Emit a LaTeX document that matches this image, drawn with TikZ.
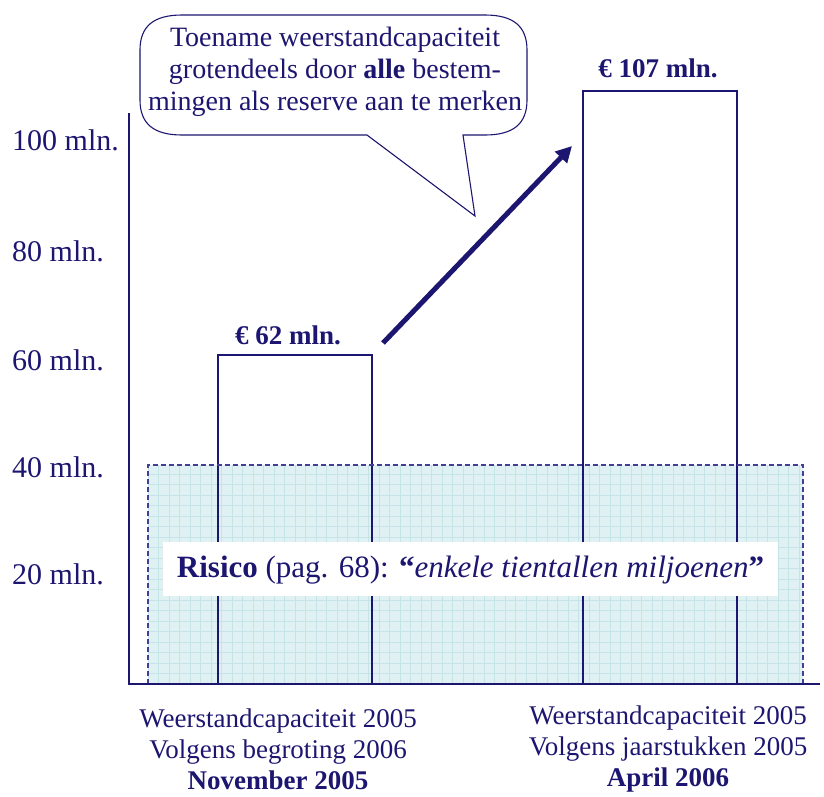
\documentclass[tikz,border=0pt]{standalone}
\usepackage{fontspec}
\setmainfont{Liberation Serif}
\usetikzlibrary{arrows.meta}
\definecolor{navy}{RGB}{28,22,112}
\definecolor{dashnavy}{RGB}{70,62,150}
\definecolor{riskfill}{RGB}{224,241,243}
\definecolor{gridc}{RGB}{196,228,231}
\tikzset{
  axisline/.style={draw=navy,line width=1.6pt},
  barline/.style={draw=navy,line width=1.1pt},
  ylab/.style={anchor=west,inner sep=0pt,text=navy,font=\fontsize{30}{34}\selectfont},
  vallab/.style={inner sep=0pt,text=navy,font=\fontsize{27}{32}\selectfont\bfseries},
  xlab/.style={inner sep=0pt,text=navy,align=center,font=\fontsize{27}{31}\selectfont},
  bubtext/.style={inner sep=0pt,text=navy,align=center,font=\fontsize{28}{32}\selectfont},
}
\begin{document}
\begin{tikzpicture}[x=1pt,y=-1pt]
\useasboundingbox (0,0) rectangle (824,796);
% risk band
\fill[riskfill] (148,465) rectangle (803,684);
\begin{scope}
\clip (148,465) rectangle (803,684);
\foreach \x in {148,158.5,...,804} \draw[gridc,line width=0.5pt] (\x,465) -- (\x,684);
\foreach \y in {684,673.5,...,464} \draw[gridc,line width=0.5pt] (148,\y) -- (803,\y);
\end{scope}
% bars
\draw[barline] (218,684) -- (218,355) -- (372,355) -- (372,684);
\draw[barline] (583,684) -- (583,91) -- (737,91) -- (737,684);
% dashed border
\draw[dashnavy,line width=1.3pt,dash pattern=on 5pt off 3pt] (148,684) -- (148,465) -- (803,465) -- (803,684);
% white label box
\fill[white] (163,542) rectangle (778,596);
\node[inner sep=0pt,text=navy,font=\fontsize{31}{34}\selectfont] (risk) at (470.5,570)
  {\textbf{Risico} (pag. 68): \textbf{``}\textit{enkele tientallen miljoenen}\textbf{''}};
% axes
\draw[axisline] (129,113) -- (129,685);
\draw[draw=navy,line width=2pt] (128,684) -- (820,684);
% y labels
\node[ylab] (y100) at (12,140) {100 mln.};
\node[ylab] (y80) at (12,251) {80 mln.};
\node[ylab] (y60) at (12,360) {60 mln.};
\node[ylab] (y40) at (12,467) {40 mln.};
\node[ylab] (y20) at (12,574) {20 mln.};
% value labels
\node[vallab] (v62) at (288,335) {€ 62 mln.};
\node[vallab] (v107) at (658,68) {€ 107 mln.};
% arrow
\coordinate (arrS) at (383,343);
\coordinate (arrE) at (572,146);
\draw[navy,line width=5pt,-{Triangle[length=16pt,width=16pt]}] (arrS) -- (arrE);
% callout
\fill[white,draw=navy,line width=1.1pt] (367,135) -- (182,135) .. controls (154,135) and (140,124) .. (140,100)
  -- (140,50) .. controls (140,26) and (154,15) .. (182,15) -- (485,15)
  .. controls (513,15) and (527,26) .. (527,50) -- (527,100)
  .. controls (527,124) and (513,135) .. (485,135) -- (463,135) -- (475,216) -- cycle;
\node[bubtext] (bub) at (335,72) {Toename weerstandcapaciteit\\grotendeels door \textbf{alle} bestem-\\mingen als reserve aan te merken};
% category labels
\node[xlab] (c1) at (278,749) {Weerstandcapaciteit 2005\\Volgens begroting 2006\\\textbf{November 2005}};
\node[xlab] (c2) at (668,749) {Weerstandcapaciteit 2005\\Volgens jaarstukken 2005\\\textbf{April 2006}};
\end{tikzpicture}
\end{document}
